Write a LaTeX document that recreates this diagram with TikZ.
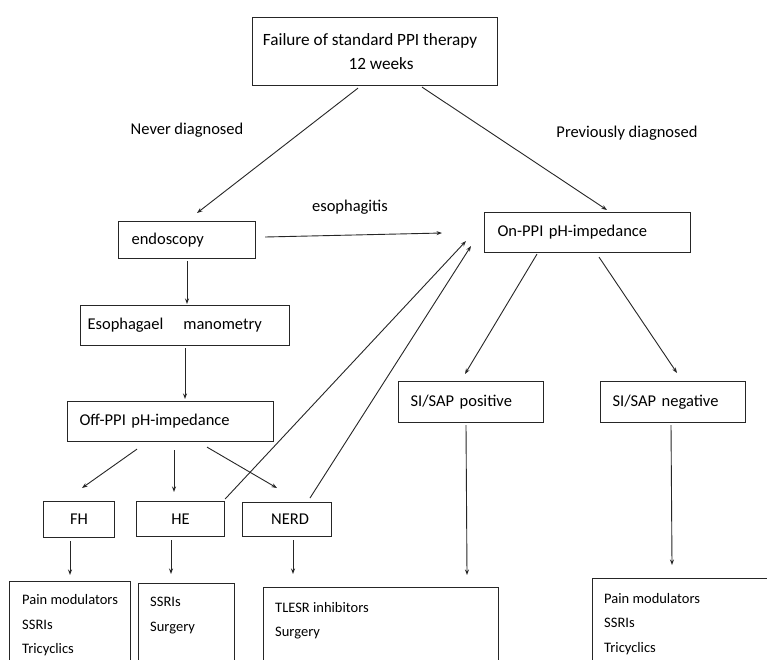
\documentclass[tikz,border=0pt]{standalone}
\usepackage{fontspec}
\setmainfont{Carlito}
\usetikzlibrary{calc,arrows.meta}
\newcommand\dgfont{\fontsize{16.5}{24.5}\selectfont}
\newcommand\dgtopfont{\fontsize{17.2}{24}\selectfont}
\newcommand\dgsmallfont{\fontsize{14.5}{24.5}\selectfont}
\begin{document}
\begin{tikzpicture}[x=1pt,y=-1pt,
  box/.style={draw=black!85, line width=1.1pt, rectangle, anchor=north west, inner sep=0pt, font=\dgfont, text=black},
  lbox/.style={box, align=left},
  lbl/.style={inner sep=0pt, font=\dgfont, text=black},
  small/.style={lbl, font=\dgsmallfont, anchor=west, align=left},
  arr/.style={-{Stealth[length=5.5pt,width=4pt]}, line width=0.9pt, draw=black!85}]
\clip (0,0) rectangle (767,659);
\fill[white] (0,0) rectangle (767,659);

% top
\node[box, minimum width=245, minimum height=68, align=center, font=\dgtopfont] (top) at (252,17)
  {\hspace*{-10pt}Failure of standard PPI therapy\\\hspace*{12pt}12 weeks};
\node[lbl] (never) at (187,130) {Never diagnosed};
\node[lbl] (prev) at (627,133) {Previously diagnosed};

% left branch
\node[lbox, minimum height=37, text width=111, inner xsep=13] (endo) at (118,221) {endoscopy};
\node[lbl] (esoph) at (350,207) {esophagitis};
\node[lbox, minimum height=40, text width=195, inner xsep=7] (mano) at (80,305) {Esophagael\hspace{20pt}manometry};
\node[lbox, minimum height=40, text width=182, inner xsep=12] (off) at (67,401) {Off-PPI pH-impedance};

\node[box, minimum width=71, minimum height=36] (fh) at (43,501) {FH};
\node[box, minimum width=88, minimum height=35] (he) at (136,501) {HE};
\node[box, minimum width=89, minimum height=34] (nerd) at (242,502) {\hspace*{6pt}NERD};

% right branch
\node[lbox, minimum height=40, text width=180, inner xsep=13] (onppi) at (484,212) {On-PPI pH-impedance};
\node[lbox, minimum height=41, text width=121, inner xsep=12] (pos) at (398,381) {SI/SAP positive};
\node[lbox, minimum height=41, text width=121, inner xsep=12] (neg) at (600,381) {SI/SAP negative};

% bottom boxes
\node[box, minimum width=121, minimum height=120] (b1) at (9,581) {};
\node[box, minimum width=96, minimum height=120] (b2) at (138,583) {};
\node[box, minimum width=235, minimum height=120] (b3) at (263,587) {};
\node[box, minimum width=200, minimum height=120] (b4) at (592,578) {};
\node[small] (b1t) at (22,625.5) {Pain modulators\\SSRIs\\Tricyclics};
\node[small] (b2t) at (150,615.5) {SSRIs\\Surgery};
\node[small] (b3t) at (275,620.5) {TLESR inhibitors\\Surgery};
\node[small] (b4t) at (604,624) {Pain modulators\\SSRIs\\Tricyclics};

% connectors
\draw[arr] ($(top.south west)+(106,2)$) -- ($(endo.north west)+(79,-8)$);
\draw[arr] ($(top.south west)+(170,1)$) -- ($(onppi.north west)+(123,-2)$);
\draw[arr] ($(endo.north east)+(9,16)$) -- ($(onppi.north west)+(-42,21)$);
\draw[arr] ($(endo.south west)+(69,2)$) -- ($(mano.north west)+(107,-1)$);
\draw[arr] ($(mano.south west)+(105,2)$) -- ($(off.north west)+(118,-2)$);
\draw[arr] ($(off.south west)+(70,7)$) -- ($(fh.north west)+(39,-13)$);
\draw[arr] ($(off.south west)+(107,8)$) -- ($(he.north west)+(38,-9)$);
\draw[arr] ($(off.south west)+(140,5)$) -- ($(nerd.north west)+(35,-14)$);
\draw[arr] ($(he.north east)+(0,-2)$) -- ($(onppi.north west)+(-18,29)$);
\draw[arr] ($(nerd.north west)+(68,-4)$) -- ($(onppi.north west)+(-13,34)$);
\draw[arr] ($(onppi.south west)+(53,1)$) -- ($(pos.north west)+(67,-7)$);
\draw[arr] ($(onppi.south west)+(115,4)$) -- ($(neg.north west)+(77,-8)$);
\draw[arr] ($(pos.south west)+(68,2)$) -- ($(b3.north west)+(204,-12)$);
\draw[arr] ($(neg.south west)+(71,2)$) -- ($(b4.north west)+(80,-13)$);
\draw[arr] ($(fh.south west)+(27,3)$) -- ($(b1.north west)+(61,-6)$);
\draw[arr] ($(he.south west)+(35,3)$) -- ($(b2.north west)+(33,-9)$);
\draw[arr] ($(nerd.south west)+(51,3)$) -- ($(b3.north west)+(30,-13)$);
\end{tikzpicture}
\end{document}
